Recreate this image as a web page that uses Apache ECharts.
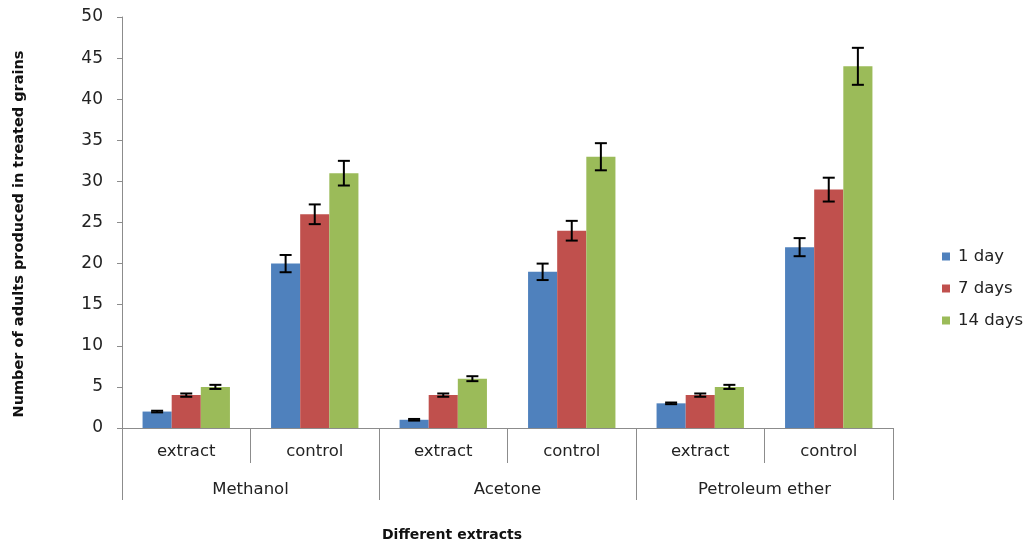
<!DOCTYPE html>
<html><head><meta charset="utf-8">
<script src="https://cdn.jsdelivr.net/npm/echarts@6/dist/echarts.min.js"></script>
<style>html,body{margin:0;padding:0;background:#fff}#c{width:1027px;height:548px}</style>
</head><body><div id="c"></div>
<script>
const subCategories = ['extract','control','extract','control','extract','control'];
const groups = ['Methanol','Acetone','Petroleum ether'];
const seriesNames = ['1 day','7 days','14 days'];
const day1 = [2, 20, 1, 19, 3, 22];
const day7 = [4, 26, 4, 24, 4, 29];
const day14 = [5, 31, 6, 33, 5, 44];
const err1 = [0.1, 1.05, 0.1, 1.0, 0.1, 1.1];
const err7 = [0.2, 1.2, 0.2, 1.2, 0.2, 1.45];
const err14 = [0.25, 1.5, 0.3, 1.65, 0.25, 2.25];
const yTicks = [0,5,10,15,20,25,30,35,40,45,50];

const colors = ['#4F81BD','#C0504D','#9BBB59'];
const values = [day1, day7, day14];
const errs = [err1, err7, err14];
const catGap = 0.32;
const font = 'DejaVu Sans';

const errData = [];
values.forEach((vals, s) => vals.forEach((v, i) => errData.push([i, v, errs[s][i], s])));

const chart = echarts.init(document.getElementById('c'));
chart.setOption({
  animation: false,
  color: colors,
  grid: {left: 122, right: 134, top: 17, bottom: 120, containLabel: false, outerBoundsMode: 'none'},
  legend: {
    orient: 'vertical', left: 937, top: 243, itemWidth: 8, itemHeight: 8, itemGap: 15,
    icon: 'rect', data: seriesNames,
    textStyle: {fontFamily: font, fontSize: 16.5, color: '#222', padding: [0, 0, 0, 3]}
  },
  graphic: [{
    type: 'text', x: 452, y: 535,
    style: {text: 'Different extracts', fontFamily: font, fontWeight: 'bold', fontSize: 14,
      fill: '#111', align: 'center', verticalAlign: 'middle'}
  }, {
    type: 'text', x: 19, y: 234, rotation: Math.PI / 2,
    style: {text: 'Number of adults produced in treated grains', fontFamily: font, fontWeight: 'bold',
      fontSize: 14.5, fill: '#111', align: 'center', verticalAlign: 'middle'}
  }],
  xAxis: [{
    type: 'category', data: subCategories, position: 'bottom',
    axisLine: {show: true, lineStyle: {color: '#8c8c8c', width: 1}},
    axisTick: {show: true, length: 35, lineStyle: {color: '#8c8c8c'}, interval: 0},
    axisLabel: {margin: 15, fontFamily: font, fontSize: 16.5, color: '#222', interval: 0}
  }, {
    type: 'category', data: groups, position: 'bottom',
    axisLine: {show: false},
    axisTick: {show: true, length: 72, lineStyle: {color: '#8c8c8c'}, interval: 0},
    axisLabel: {margin: 53, fontFamily: font, fontSize: 16.5, color: '#222', interval: 0}
  }],
  yAxis: {
    type: 'value', min: 0, max: 50, interval: 5,
    splitLine: {show: false},
    axisLine: {show: true, lineStyle: {color: '#8c8c8c'}},
    axisTick: {show: true, length: 5, lineStyle: {color: '#8c8c8c'}},
    axisLabel: {margin: 19, fontFamily: font, fontSize: 17, color: '#222',
      formatter: v => yTicks.includes(v) ? String(v) : ''}
  },
  series: [
    ...seriesNames.map((n, s) => ({
      name: n, type: 'bar', xAxisIndex: 0, data: values[s],
      barGap: '0%', barCategoryGap: (catGap * 100) + '%',
      itemStyle: {color: colors[s]}
    })),
    {
      type: 'custom', xAxisIndex: 0, z: 10, data: errData,
      encode: {x: 0, y: 1},
      renderItem: function (params, api) {
        const i = api.value(0), v = api.value(1), e = api.value(2), s = api.value(3);
        const band = api.size([1, 0])[0];
        const bw = band * (1 - catGap) / 3;
        const c = api.coord([i, v]);
        const x = c[0] + (s - 1) * bw;
        const top = api.coord([i, v + e])[1];
        const bot = api.coord([i, v - e])[1];
        const cap = 6;
        const st = {stroke: '#000', lineWidth: 2};
        return {type: 'group', children: [
          {type: 'line', shape: {x1: x, y1: top, x2: x, y2: bot}, style: st},
          {type: 'line', shape: {x1: x - cap, y1: top, x2: x + cap, y2: top}, style: st},
          {type: 'line', shape: {x1: x - cap, y1: bot, x2: x + cap, y2: bot}, style: st}
        ]};
      }
    }
  ]
});
</script></body></html>
